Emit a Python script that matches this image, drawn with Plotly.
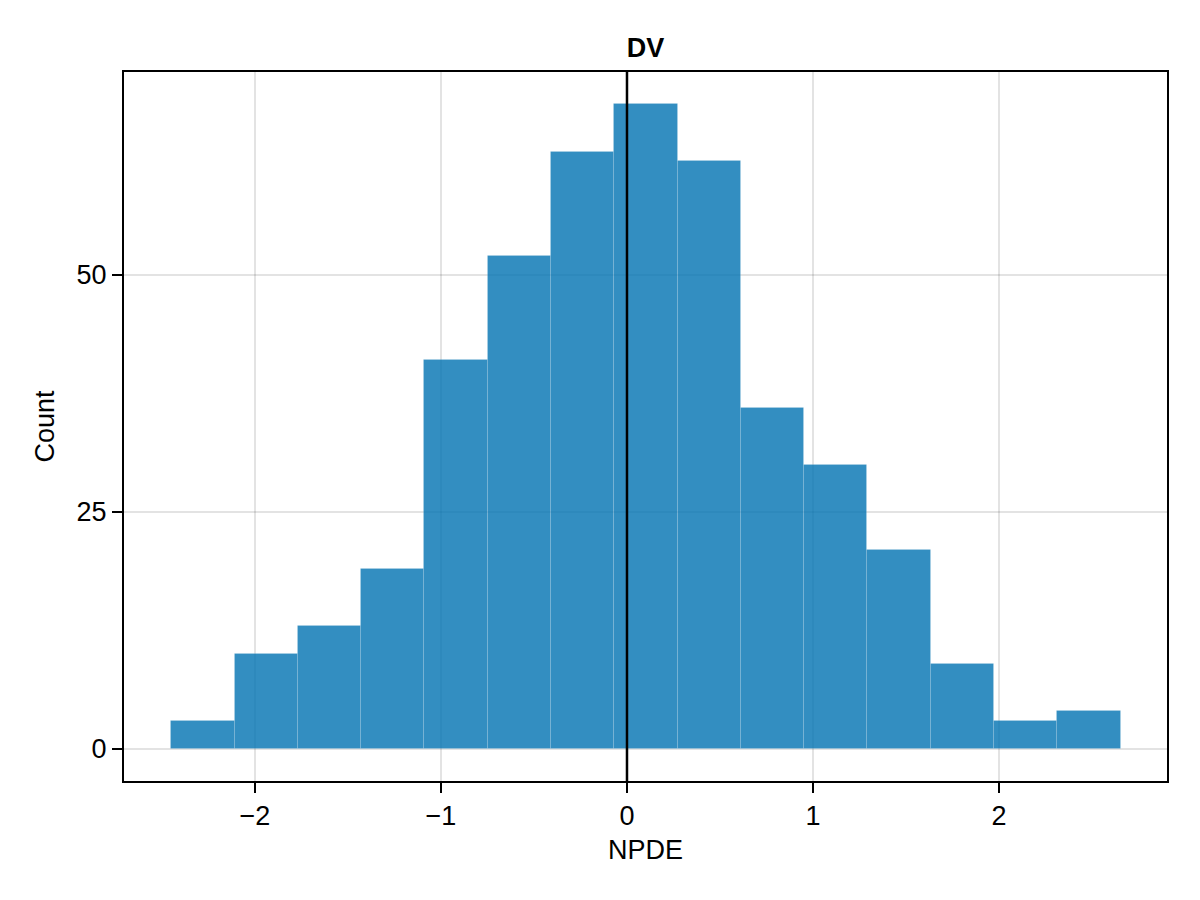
import plotly.graph_objects as go

# Data
bin_start = -2.4495
bin_width = 0.3402
counts = [3, 10, 13, 19, 41, 52, 63, 68, 62, 36, 30, 21, 9, 3, 4]
x_ticks = [-2, -1, 0, 1, 2]
x_tick_labels = ["−2", "−1", "0", "1", "2"]
y_ticks = [0, 25, 50]
y_tick_labels = ["0", "25", "50"]
ref_line_x = 0

centers = [bin_start + bin_width * (i + 0.5) for i in range(len(counts))]

FONT = "Liberation Sans, Arial, sans-serif"
FS = 27

fig = go.Figure()
fig.add_trace(go.Bar(
    x=centers, y=counts, width=[bin_width] * len(counts),
    marker=dict(color="rgba(0,114,178,0.8)",
                line=dict(color="rgba(255,255,255,0.12)", width=1)),
    showlegend=False,
))

fig.add_shape(type="line", xref="x", yref="paper", x0=ref_line_x, x1=ref_line_x,
              y0=0, y1=1, line=dict(color="black", width=2.5), layer="above")

axis_common = dict(
    showgrid=True, gridcolor="rgba(0,0,0,0.11)", gridwidth=1.5,
    zeroline=False, showline=True, linecolor="black", linewidth=2, mirror=True,
    ticks="outside", ticklen=10, tickwidth=2, tickcolor="black",
    tickfont=dict(family=FONT, size=FS, color="black"),
)

fig.update_layout(
    width=1200, height=900,
    margin=dict(l=124, r=33, t=72, b=119),
    plot_bgcolor="white", paper_bgcolor="white",
    bargap=0,
    title=dict(text="<b>DV</b>", x=0.5, xref="paper", y=1 - 48 / 900, yref="container",
               xanchor="center", yanchor="middle",
               font=dict(family=FONT, size=FS, color="black")),
    xaxis=dict(range=[-2.704, 2.903], tickvals=x_ticks, ticktext=x_tick_labels,
               title=dict(text="NPDE", font=dict(family=FONT, size=FS, color="black"), standoff=10),
               **axis_common),
    yaxis=dict(range=[-3.38, 71.4], tickvals=y_ticks, ticktext=y_tick_labels,
               title=dict(text="Count", font=dict(family=FONT, size=FS, color="black"), standoff=14),
               **axis_common),
)

fig.write_html("out.html")
